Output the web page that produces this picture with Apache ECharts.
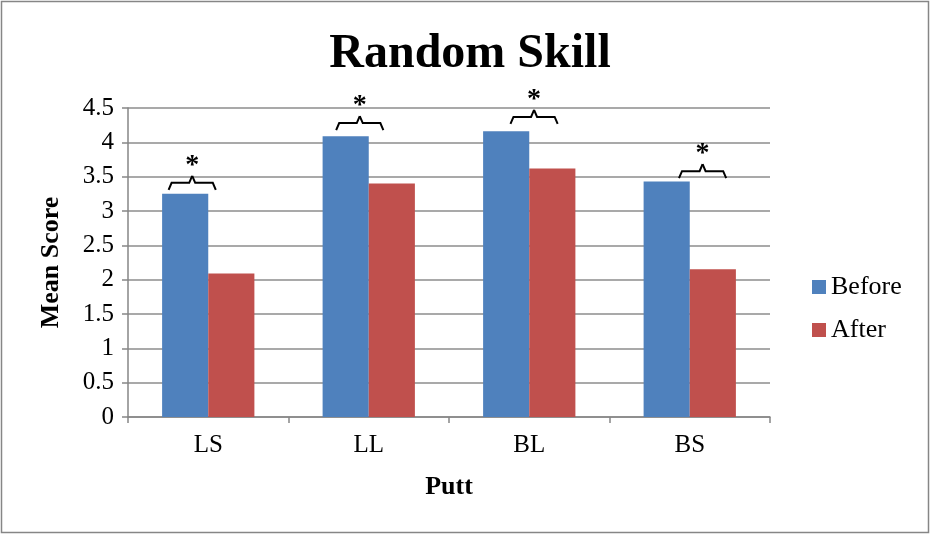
<!DOCTYPE html>
<html>
<head>
<meta charset="utf-8">
<script src="https://cdn.jsdelivr.net/npm/echarts@6/dist/echarts.min.js"></script>
<style>
html,body{margin:0;padding:0;background:#fff;}
#chart{width:931px;height:535px;}
</style>
</head>
<body>
<div id="chart"></div>
<script>
var categories = ['LS', 'LL', 'BL', 'BS'];
var before = [3.25, 4.09, 4.16, 3.43];
var after = [2.09, 3.40, 3.62, 2.15];
// significance brackets: [category index, bracket level, shift in category widths]
var brackets = [[0, 3.41, -0.10], [1, 4.28, -0.056], [2, 4.37, 0.03], [3, 3.58, 0.08]];

var chart = echarts.init(document.getElementById('chart'));
var serif = '"Liberation Serif", "DejaVu Serif", serif';

function renderBracket(params, api){
	var idx = api.value(0);
	var lvl = api.value(1);
	var shift = api.value(2);
	var p = api.coord([idx, lvl]);
	var catW = api.size([1, 0])[0];
	var cx = p[0] + shift * catW;
	var half = catW * 0.147;
	var y = p[1];
	return {
		type: 'group',
		children: [
			{
				type: 'polyline',
				shape: {points: [[cx - half, y + 7], [cx - half + 3, y], [cx - 3, y], [cx, y - 7]]},
				style: {stroke: '#000', lineWidth: 2, fill: null}
			},
			{
				type: 'polyline',
				shape: {points: [[cx + half, y + 7], [cx + half - 3, y], [cx + 3, y], [cx, y - 7]]},
				style: {stroke: '#000', lineWidth: 2, fill: null}
			},
			{
				type: 'text',
				style: {text: '*', x: cx, y: y - 3, align: 'center', verticalAlign: 'bottom',
					font: 'bold 28px ' + serif, fill: '#000'}
			}
		]
	};
}

var option = {
	animation: false,
	backgroundColor: '#fff',
	title: {
		text: 'Random Skill',
		left: 465,
		textAlign: 'center',
		top: 26,
		textStyle: {fontFamily: serif, fontSize: 48, fontWeight: 'bold', color: '#000'}
	},
	legend: {
		orient: 'vertical',
		left: 807,
		top: 269,
		itemWidth: 14,
		itemHeight: 14,
		itemGap: 17,
		icon: 'rect',
		data: ['Before', 'After'],
		textStyle: {fontFamily: serif, fontSize: 26, color: '#000'}
	},
	grid: {left: 128, right: 161, top: 108, bottom: 118},
	xAxis: {
		type: 'category',
		data: categories,
		name: 'Putt',
		nameLocation: 'middle',
		nameGap: 57,
		nameTextStyle: {fontFamily: serif, fontSize: 26, fontWeight: 'bold', color: '#000'},
		axisLine: {lineStyle: {color: '#868686', width: 1.5}},
		axisTick: {show: true, length: 6, lineStyle: {color: '#868686', width: 1.5}},
		axisLabel: {fontFamily: serif, fontSize: 25, color: '#000', margin: 16}
	},
	yAxis: {
		type: 'value',
		min: 0,
		max: 4.5,
		interval: 0.5,
		name: 'Mean Score',
		nameLocation: 'middle',
		nameGap: 64,
		nameTextStyle: {fontFamily: serif, fontSize: 26, fontWeight: 'bold', color: '#000'},
		axisLine: {show: true, lineStyle: {color: '#868686', width: 1.5}},
		axisTick: {show: true, length: 6, lineStyle: {color: '#868686', width: 1.5}},
		axisLabel: {fontFamily: serif, fontSize: 25, color: '#000', margin: 14},
		splitLine: {lineStyle: {color: '#8c8c8c', width: 1.5}}
	},
	series: [
		{
			name: 'Before',
			type: 'bar',
			data: before,
			barGap: '0%',
			barCategoryGap: '42.5%',
			itemStyle: {color: '#4F81BD'}
		},
		{
			name: 'After',
			type: 'bar',
			data: after,
			itemStyle: {color: '#C0504D'}
		},
		{
			type: 'custom',
			renderItem: renderBracket,
			data: brackets,
			silent: true,
			z: 5
		}
	],
	graphic: [{
		type: 'rect',
		shape: {x: 1.5, y: 1.5, width: 927, height: 531},
		style: {fill: null, stroke: '#868686', lineWidth: 1.5},
		silent: true
	}]
};
chart.setOption(option);
</script>
</body>
</html>
